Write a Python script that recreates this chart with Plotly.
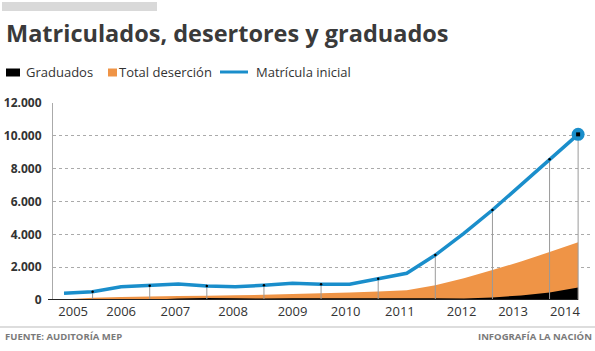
import plotly.graph_objects as go

# ---- data (semester steps 2005.0 .. 2014.0) ----
periods = [2005 + i / 2 for i in range(19)]
matricula = [410, 500, 810, 870, 975, 850, 810, 895, 1015, 955, 955, 1300, 1625, 2740, 4060, 5480, 7020, 8570, 10090]
desercion = [30, 130, 190, 220, 250, 260, 290, 320, 360, 410, 460, 520, 600, 900, 1320, 1820, 2350, 2920, 3520]
graduados = [0, 0, 0, 20, 90, 120, 100, 90, 100, 100, 100, 100, 100, 100, 90, 150, 280, 450, 760]
year_labels = ["2005", "2006", "2007", "2008", "2009", "2010", "2011", "2012", "2013", "2014"]
year_label_x = [2005.16, 2006.0, 2006.95, 2007.96, 2009.0, 2009.93, 2010.88, 2011.96, 2012.86, 2013.77]
y_ticks = [0, 2000, 4000, 6000, 8000, 10000, 12000]
y_tick_text = ["0", "2.000", "4.000", "6.000", "8.000", "10.000", "12.000"]

W, H = 595, 351
ML, MR, MT, MB = 53, 5, 103, 51
PW, PH = W - ML - MR, H - MT - MB

def px(x):
    return (x - ML) / PW

def py(y):
    return (H - MB - y) / PH

BLUE = "#1a8ecb"
ORANGE = "#ef9446"
TEXT = "#333333"
FONT = "Open Sans"

fig = go.Figure()

fig.add_trace(go.Scatter(x=periods, y=desercion, mode="none", fill="tozeroy",
                         fillcolor=ORANGE, showlegend=False, hoverinfo="skip"))
fig.add_trace(go.Scatter(x=periods, y=graduados, mode="none", fill="tozeroy",
                         fillcolor="#000000", showlegend=False, hoverinfo="skip"))

# drop lines from selected points of the enrolment line
drop_idx = [i for i in range(len(periods)) if i % 2 == 1] + [len(periods) - 1]
dx, dy = [], []
for i in drop_idx:
    dx += [periods[i], periods[i], None]
    dy += [matricula[i], 0, None]
fig.add_trace(go.Scatter(x=dx, y=dy, mode="lines", line=dict(color="#9a9a9a", width=1),
                         showlegend=False, hoverinfo="skip"))

fig.add_trace(go.Scatter(x=periods, y=matricula, mode="lines",
                         line=dict(color=BLUE, width=3.5), showlegend=False))
fig.add_trace(go.Scatter(x=[periods[i] for i in drop_idx[:-1]],
                         y=[matricula[i] for i in drop_idx[:-1]], mode="markers",
                         marker=dict(color="#000", size=2.5), showlegend=False, hoverinfo="skip"))
fig.add_trace(go.Scatter(x=[periods[-1]], y=[matricula[-1]], mode="markers",
                         marker=dict(color=BLUE, size=13), showlegend=False))
fig.add_trace(go.Scatter(x=[periods[-1]], y=[matricula[-1]], mode="markers",
                         marker=dict(color="#000", size=4, symbol="square"), showlegend=False))

shapes = [
    # top gray bar
    dict(type="rect", xref="paper", yref="paper", x0=px(2), x1=px(157), y0=py(2), y1=py(11),
         fillcolor="#d9d9d9", line=dict(width=0), layer="above"),
    # x axis baseline
    dict(type="line", xref="paper", yref="y", x0=px(48), x1=px(578), y0=0, y1=0,
         line=dict(color="#222", width=2), layer="above"),
    # footer separator
    dict(type="line", xref="paper", yref="paper", x0=px(0), x1=px(595), y0=py(327), y1=py(327),
         line=dict(color="#dddddd", width=2)),
    # legend symbols
    dict(type="rect", xref="paper", yref="paper", x0=px(6), x1=px(20), y0=py(68.5), y1=py(76.5),
         fillcolor="#000", line=dict(width=0)),
    dict(type="rect", xref="paper", yref="paper", x0=px(108), x1=px(117), y0=py(68.5), y1=py(76.5),
         fillcolor=ORANGE, line=dict(width=0)),
    dict(type="line", xref="paper", yref="paper", x0=px(220), x1=px(248), y0=py(72), y1=py(72),
         line=dict(color=BLUE, width=3)),
]

annotations = [
    dict(text="<b>Matriculados, desertores y graduados</b>", x=px(4), y=py(33), xanchor="left",
         yanchor="middle", font=dict(family=FONT, size=23.5, color="#3a3a3a")),
    dict(text="Graduados", x=px(24), y=py(72), xanchor="left", yanchor="middle",
         font=dict(family=FONT, size=13, color=TEXT)),
    dict(text="Total deserción", x=px(117), y=py(72), xanchor="left", yanchor="middle",
         font=dict(family=FONT, size=13, color=TEXT)),
    dict(text="Matrícula inicial", x=px(254), y=py(72), xanchor="left", yanchor="middle",
         font=dict(family=FONT, size=13, color=TEXT)),
    dict(text="<b>FUENTE: AUDITORÍA MEP</b>", x=px(3), y=py(336), xanchor="left", yanchor="middle",
         font=dict(family=FONT, size=9.5, color="#7a7a7a")),
    dict(text="<b>INFOGRAFÍA LA NACIÓN</b>", x=px(594), y=py(336), xanchor="right", yanchor="middle",
         font=dict(family=FONT, size=9.5, color="#7a7a7a")),
]
for a in annotations:
    a.update(xref="paper", yref="paper", showarrow=False)

fig.update_layout(
    width=W, height=H,
    margin=dict(l=ML, r=MR, t=MT, b=MB, pad=0),
    paper_bgcolor="white", plot_bgcolor="white",
    shapes=shapes, annotations=annotations,
    showlegend=False,
    xaxis=dict(range=[2004.807, 2014.208], tickvals=year_label_x, ticktext=year_labels,
               showgrid=False, zeroline=False, showline=False, ticks="",
               tickfont=dict(family=FONT, size=13, color=TEXT), ticklabelstandoff=2),
    yaxis=dict(range=[0, 12000], tickvals=y_ticks, ticktext=y_tick_text,
               showgrid=True, gridcolor="#aaaaaa", griddash="dot", gridwidth=1,
               zeroline=False, showline=True, linecolor="#aaaaaa", linewidth=1,
               ticks="", ticklabelstandoff=8,
               tickfont=dict(family=FONT, size=12, color=TEXT, weight="bold")),
)

fig.write_html("out.html")
